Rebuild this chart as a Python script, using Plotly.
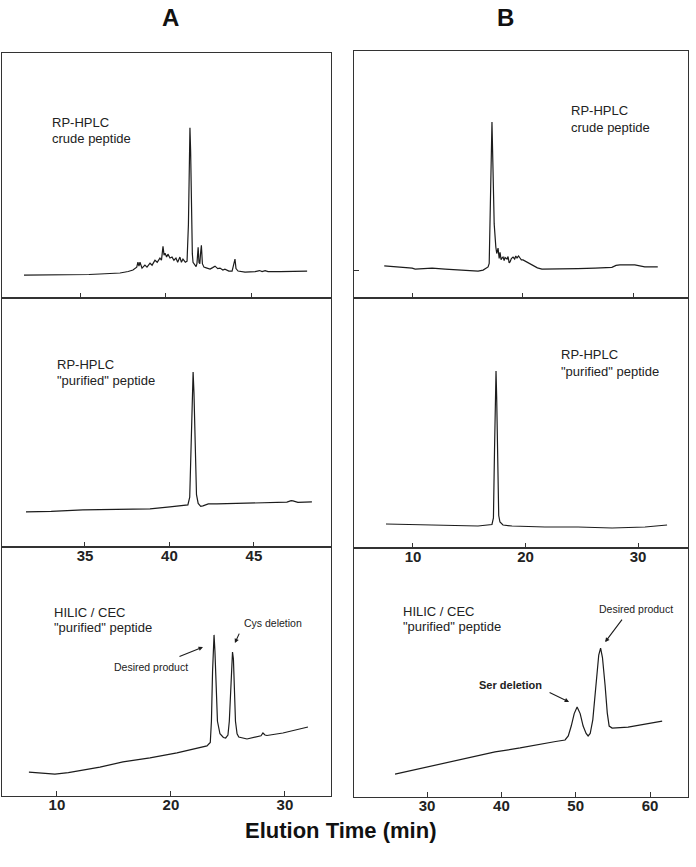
import plotly.graph_objects as go

# ---------------- data (elution time in min, detector signal in % of panel height) ----------------
a_crude_time = [31.69, 33.80, 35.50, 36.14, 37.32, 37.80, 38.08, 38.30, 38.37, 38.43, 38.49, 38.61,
                38.78, 38.90, 39.08, 39.20, 39.37, 39.50, 39.66, 39.75, 39.84, 39.90, 39.96, 40.05,
                40.13, 40.25, 40.37, 40.48, 40.60, 40.70, 40.83, 40.92, 41.01, 41.15, 41.25, 41.33,
                41.38, 41.42, 41.46, 41.51, 41.56, 41.60, 41.72, 41.78, 41.83, 41.90, 41.95, 42.00,
                42.04, 42.09, 42.15, 42.24, 42.42, 42.60, 42.75, 42.89, 43.05, 43.18, 43.35, 43.47,
                43.70, 43.89, 43.98, 44.06, 44.12, 44.24, 44.65, 45.24, 45.50, 45.65, 45.83, 46.00,
                46.71, 48.29]
a_crude_signal = [9.3, 9.3, 9.6, 9.8, 10.2, 10.8, 11.4, 12.6, 14.6, 13.0, 14.6, 12.2,
                  13.4, 12.6, 14.2, 13.4, 15.4, 14.6, 16.3, 15.4, 21.1, 17.5, 18.3, 16.7,
                  17.9, 16.3, 16.7, 15.4, 16.3, 14.6, 16.7, 14.6, 15.9, 14.6, 15.0, 30.0,
                  60.0, 69.5, 60.0, 35.0, 18.0, 14.6, 13.4, 12.8, 14.0, 20.7, 14.5, 14.0,
                  18.0, 21.5, 14.0, 12.6, 12.2, 11.8, 12.4, 13.0, 12.0, 12.2, 11.4, 11.8,
                  11.0, 11.0, 13.5, 15.9, 12.0, 11.0, 10.6, 10.8, 11.2, 10.8, 11.2, 10.8,
                  10.8, 11.0]

a_pur_time = [31.51, 33.00, 34.88, 37.00, 38.85, 40.03, 40.80, 41.09, 41.20, 41.28, 41.36, 41.40,
              41.45, 41.52, 41.60, 41.70, 41.85, 41.98, 42.30, 42.81, 44.76, 46.50, 46.95, 47.20,
              47.31, 47.60, 48.43]
a_pur_signal = [14.1, 14.3, 14.9, 15.1, 15.3, 16.1, 16.5, 16.9, 20.0, 45.0, 68.0, 70.3,
                62.0, 35.0, 21.0, 17.5, 16.3, 16.5, 17.3, 17.3, 17.5, 17.7, 18.0, 18.6,
                18.5, 17.9, 18.1]

a_hilic_time = [7.54, 8.77, 9.82, 11.00, 12.28, 13.77, 15.79, 18.16, 20.53, 21.93, 23.16, 23.45,
                23.55, 23.65, 23.78, 23.86, 23.95, 24.08, 24.30, 24.60, 24.80, 25.00, 25.12, 25.24,
                25.40, 25.48, 25.56, 25.66, 25.80, 25.95, 26.67, 27.54, 27.90, 28.07, 28.25, 28.42,
                29.82, 32.02]
a_hilic_signal = [9.6, 9.2, 8.8, 9.4, 10.4, 11.6, 13.7, 15.3, 17.3, 18.9, 20.1, 21.5,
                  30.0, 50.0, 64.7, 58.0, 42.0, 30.0, 25.0, 23.5, 23.3, 24.5, 30.0, 45.0,
                  57.8, 55.0, 42.0, 30.0, 25.0, 23.7, 22.9, 23.7, 24.2, 25.3, 24.5, 24.3,
                  25.3, 27.7]

b_crude_time = [7.48, 8.74, 10.00, 10.27, 11.80, 12.97, 14.77, 15.95, 16.40, 16.85, 16.95, 17.03,
                17.12, 17.20, 17.28, 17.40, 17.55, 17.63, 17.75, 17.85, 17.93, 18.02, 18.11, 18.20,
                18.30, 18.38, 18.56, 18.65, 18.75, 18.83, 18.95, 19.10, 19.25, 19.35, 19.46, 19.60,
                19.73, 19.85, 20.00, 20.36, 20.81, 21.30, 21.71, 23.51, 24.95, 26.50, 28.02, 28.40,
                28.74, 30.09, 30.99, 32.16]
b_crude_signal = [13.0, 12.6, 12.1, 11.7, 12.1, 11.7, 11.3, 10.9, 11.3, 12.6, 14.0, 30.0,
                  55.0, 71.3, 55.0, 30.0, 20.6, 18.0, 20.2, 16.0, 18.5, 15.5, 16.2, 16.6,
                  15.2, 16.4, 15.8, 16.8, 14.2, 14.6, 16.0, 16.6, 15.8, 17.0, 16.2, 17.0,
                  16.2, 15.4, 15.4, 14.6, 13.4, 12.2, 11.7, 11.7, 11.9, 12.1, 12.4, 13.2,
                  13.4, 13.4, 12.6, 12.6]

b_pur_time = [7.60, 11.33, 15.78, 17.02, 17.15, 17.25, 17.33, 17.38, 17.44, 17.52, 17.62, 17.73,
              18.00, 18.80, 21.73, 24.67, 27.69, 30.62, 32.58]
b_pur_signal = [9.6, 9.2, 8.8, 9.4, 12.0, 40.0, 65.0, 70.8, 60.0, 30.0, 13.0, 10.4,
                9.2, 8.8, 8.4, 8.4, 8.0, 8.4, 9.2]

b_hilic_time = [25.69, 29.00, 32.42, 35.80, 39.15, 42.52, 45.88, 47.30, 48.57, 49.00, 49.40, 49.80,
                50.19, 50.60, 51.00, 51.40, 51.67, 51.95, 52.30, 52.70, 53.10, 53.35, 53.60, 53.95,
                54.25, 54.50, 54.90, 57.05, 59.50, 61.63]
b_hilic_signal = [9.2, 11.4, 13.7, 15.9, 18.1, 19.7, 21.7, 22.3, 22.9, 24.5, 28.5, 33.5,
                  36.1, 33.5, 28.5, 25.5, 24.5, 25.5, 31.0, 45.0, 57.0, 59.8, 56.0, 45.0,
                  33.7, 28.5, 27.7, 28.1, 29.3, 30.5]

column_titles = ["A", "B"]
x_title = "Elution Time (min)"
panel_titles = [
    ["RP-HPLC", "crude peptide"],
    ["RP-HPLC", "\"purified\" peptide"],
    ["HILIC / CEC", "\"purified\" peptide"],
]
a_ticks = [[35, 40, 45], [35, 40, 45], [10, 20, 30]]
b_ticks = [[10, 20, 30], [10, 20, 30], [30, 40, 50, 60]]
a_ranges = [[30.40, 49.69], [30.09, 49.56], [5.18, 34.04]]
b_ranges = [[4.75, 34.89], [4.76, 34.44], [20.17, 65.11]]

# ---------------- figure ----------------
W, H = 696, 867
LINE = "#1c1c1c"
TXT = "#222222"
FONT = "Liberation Sans, Arial, sans-serif"

fig = go.Figure()

series = [
    (a_crude_time, a_crude_signal), (a_pur_time, a_pur_signal), (a_hilic_time, a_hilic_signal),
    (b_crude_time, b_crude_signal), (b_pur_time, b_pur_signal), (b_hilic_time, b_hilic_signal),
]

# panel pixel boxes: (left, right, top, bottom)
boxes = [
    (2, 331, 53, 298), (2, 331, 298, 547), (2, 331, 547, 796),
    (354, 688, 51, 298), (354, 688, 298, 548), (354, 688, 548, 797),
]
ranges = a_ranges + b_ranges
ticks = a_ticks + b_ticks

layout = dict(
    width=W, height=H, margin=dict(l=0, r=0, t=0, b=0, autoexpand=False),
    paper_bgcolor="white", plot_bgcolor="white", showlegend=False,
    font=dict(family=FONT, color=TXT),
)

for i, ((t, s), (l, r, tp, bt)) in enumerate(zip(series, boxes)):
    n = "" if i == 0 else str(i + 1)
    row = i % 3
    fig.add_trace(go.Scatter(x=t, y=s, mode="lines", xaxis="x" + n, yaxis="y" + n,
                             line=dict(color=LINE, width=1.2), hoverinfo="skip"))
    layout["xaxis" + n] = dict(
        domain=[l / W, r / W], range=ranges[i], anchor="y" + n,
        showline=True, mirror=True, linecolor="#333", linewidth=1.2,
        showgrid=False, zeroline=False,
        tickmode="array", tickvals=ticks[i], ticks="inside", ticklen=5,
        tickcolor="#333", tickwidth=1.2,
        showticklabels=(row > 0), ticklabelstandoff=-5,
        tickfont=dict(size=15, family=FONT, color=TXT, weight="bold"),
    )
    ydict = dict(
        domain=[1 - bt / H, 1 - tp / H], range=[0, 100], anchor="x" + n,
        showline=True, mirror=True, linecolor="#333", linewidth=1.2,
        showgrid=False, zeroline=False, showticklabels=False, ticks="",
    )
    if i == 3:
        ydict.update(tickmode="array", tickvals=[11.3], ticks="inside", ticklen=5,
                     tickcolor="#333", tickwidth=1.2)
    layout["yaxis" + n] = ydict

fig.update_layout(**layout)

# panel text labels (left x, line1 y, line2 y) in each panel's data units
label_pos = [
    (33.21, 71.6, 65.0), (33.22, 73.2, 66.7), (9.56, 73.6, 67.5),
    (24.12, 75.8, 69.2), (22.98, 77.3, 70.8), (26.50, 74.4, 68.3),
]
for i, (lx, y1, y2) in enumerate(label_pos):
    n = "" if i == 0 else str(i + 1)
    lines = panel_titles[i % 3]
    for txt, yy in zip(lines, (y1, y2)):
        fig.add_annotation(x=lx, y=yy, xref="x" + n, yref="y" + n, text=txt,
                           showarrow=False, xanchor="left", yanchor="middle",
                           font=dict(size=13, family=FONT, color=TXT))

# peak annotations
small = dict(size=10.5, family=FONT, color=TXT)
fig.add_annotation(x=18.25, y=51.8, xref="x3", yref="y3", text="Desired product",
                   showarrow=False, font=small)
fig.add_annotation(x=22.81, y=59.8, xref="x3", yref="y3", text="", showarrow=True,
                   ax=-25, ay=10, arrowhead=2, arrowsize=0.8, arrowwidth=1.1, arrowcolor=LINE)
fig.add_annotation(x=28.95, y=69.5, xref="x3", yref="y3", text="Cys deletion",
                   showarrow=False, font=small)
fig.add_annotation(x=25.61, y=61.4, xref="x3", yref="y3", text="", showarrow=True,
                   ax=5, ay=-11, arrowhead=2, arrowsize=0.8, arrowwidth=1.1, arrowcolor=LINE)

fig.add_annotation(x=58.13, y=75.5, xref="x6", yref="y6", text="Desired product",
                   showarrow=False, font=small)
fig.add_annotation(x=53.96, y=62.2, xref="x6", yref="y6", text="", showarrow=True,
                   ax=18, ay=-24, arrowhead=2, arrowsize=0.8, arrowwidth=1.1, arrowcolor=LINE)
fig.add_annotation(x=41.17, y=45.0, xref="x6", yref="y6", text="Ser deletion",
                   showarrow=False, font=dict(size=11, family=FONT, color=TXT, weight="bold"))
fig.add_annotation(x=49.11, y=38.2, xref="x6", yref="y6", text="", showarrow=True,
                   ax=-21, ay=-10, arrowhead=2, arrowsize=0.8, arrowwidth=1.1, arrowcolor=LINE)

# column headers and common axis title
for txt, px in zip(column_titles, (170, 505)):
    fig.add_annotation(x=px / W, y=1 - 18 / H, xref="paper", yref="paper", text=txt,
                       showarrow=False, xanchor="center", yanchor="middle",
                       font=dict(size=24, family=FONT, color="#111", weight="bold"))
fig.add_annotation(x=340 / W, y=1 - 830 / H, xref="paper", yref="paper", text=x_title,
                   showarrow=False, xanchor="center", yanchor="middle",
                   font=dict(size=22, family=FONT, color="#111", weight="bold"))

fig.write_html("out.html", config={"displayModeBar": False},
               post_script="document.body.style.margin='0';")
